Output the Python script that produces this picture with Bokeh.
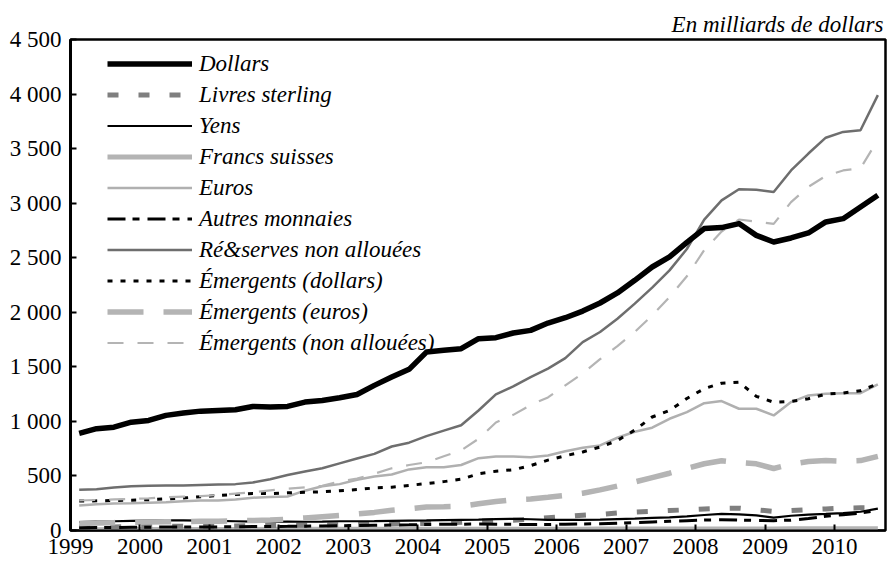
from bokeh.plotting import figure
from bokeh.models import ColumnDataSource, Legend, LegendItem, FixedTicker, Range1d
from bokeh.embed import file_html
from bokeh.resources import INLINE

# Quarterly observations, 1999 T1 -> 2010 T3 (in milliards de dollars)
quarters = [f"{y}T{q}" for y in range(1999, 2011) for q in range(1, 5)][:47]

dollars = [890, 933, 947, 993, 1009, 1055, 1076, 1094, 1100, 1107, 1137, 1131,
           1137, 1177, 1192, 1217, 1247, 1330, 1406, 1477, 1635, 1651, 1666, 1758,
           1767, 1810, 1834, 1901, 1950, 2011, 2085, 2177, 2293, 2415, 2507, 2640,
           2767, 2776, 2813, 2705, 2644, 2681, 2727, 2828, 2858, 2965, 3072]
livres = [30, 32, 33, 35, 36, 38, 38, 40, 40, 42, 44, 45,
          46, 48, 50, 52, 55, 58, 60, 62, 65, 70, 75, 85,
          92, 95, 105, 118, 128, 140, 148, 160, 168, 175, 183, 190,
          198, 203, 205, 190, 175, 182, 190, 198, 205, 208, 210]
yens = [78, 82, 85, 88, 90, 92, 92, 90, 88, 85, 82, 80,
        82, 80, 82, 85, 85, 86, 88, 90, 92, 95, 98, 100,
        105, 107, 103, 98, 98, 98, 100, 105, 108, 115, 120, 130,
        142, 153, 148, 138, 118, 135, 145, 152, 160, 172, 200]
francs = [8, 8, 9, 9, 9, 10, 10, 10, 10, 10, 10, 11,
          11, 11, 11, 11, 11, 12, 12, 12, 12, 12, 12, 12,
          12, 12, 12, 12, 12, 12, 13, 13, 13, 13, 13, 14,
          14, 14, 14, 14, 14, 15, 15, 15, 15, 15, 15]
euros = [229, 240, 248, 250, 255, 260, 268, 275, 275, 285, 300, 308,
         312, 365, 405, 425, 465, 495, 513, 560, 580, 580, 600, 663,
         679, 679, 672, 688, 727, 758, 780, 850, 905, 942, 1024, 1085,
         1167, 1186, 1116, 1116, 1055, 1177, 1238, 1254, 1259, 1259, 1339]
autres = [25, 27, 28, 30, 30, 32, 32, 33, 33, 35, 36, 37,
          38, 40, 42, 44, 46, 48, 50, 52, 55, 57, 58, 60,
          58, 56, 55, 55, 57, 60, 62, 66, 72, 78, 84, 90,
          96, 98, 95, 92, 90, 95, 110, 130, 145, 160, 185]
reserves_na = [373, 378, 395, 405, 410, 412, 412, 418, 422, 425, 440, 470,
               508, 540, 570, 615, 660, 702, 770, 805, 865, 915, 965, 1100,
               1247, 1320, 1406, 1483, 1580, 1727, 1819, 1941, 2079, 2226, 2384, 2580,
               2849, 3026, 3127, 3124, 3102, 3300, 3455, 3600, 3653, 3668, 3990]
emerg_dollars = [270, 272, 275, 278, 282, 290, 298, 310, 320, 330, 340, 338,
                 345, 350, 355, 365, 375, 390, 397, 413, 430, 448, 470, 520,
                 543, 557, 595, 645, 685, 720, 765, 825, 920, 1040, 1100, 1210,
                 1300, 1350, 1360, 1230, 1175, 1182, 1208, 1250, 1260, 1280, 1345]
emerg_euros = [65, 68, 72, 75, 78, 80, 82, 85, 85, 88, 92, 96,
               104, 115, 127, 138, 152, 166, 185, 200, 215, 218, 222, 245,
               265, 282, 289, 305, 322, 342, 372, 408, 445, 485, 525, 570,
               612, 640, 622, 611, 568, 608, 632, 641, 636, 641, 679]
emerg_na = [275, 280, 285, 290, 295, 305, 310, 315, 325, 338, 350, 368,
            382, 395, 410, 450, 475, 520, 570, 600, 625, 680, 735, 840,
            990, 1060, 1150, 1220, 1330, 1440, 1570, 1690, 1820, 1970, 2140, 2330,
            2570, 2740, 2850, 2830, 2810, 3010, 3150, 3250, 3300, 3320, 3580]

year_ticks = list(range(1999, 2011))
y_ticks = [0, 500, 1000, 1500, 2000, 2500, 3000, 3500, 4000, 4500]
y_tick_labels = ["0", "500", "1 000", "1 500", "2 000", "2 500", "3 000", "3 500", "4 000", "4 500"]
unit_text = "En milliards de dollars"

# mid-quarter position on a continuous time axis
t = [int(q[:4]) + (int(q[-1]) - 1) * 0.25 + 0.125 for q in quarters]

src = ColumnDataSource(dict(t=t, dollars=dollars, livres=livres, yens=yens, francs=francs,
                            euros=euros, autres=autres, reserves_na=reserves_na,
                            emerg_dollars=emerg_dollars, emerg_euros=emerg_euros,
                            emerg_na=emerg_na))

FONT = "Liberation Serif"
X_END = 2010.735

p = figure(width=887, height=562, output_backend="svg", toolbar_location=None,
           x_range=Range1d(1999, X_END), y_range=Range1d(0, 4500),
           min_border_left=70, min_border_right=2, min_border_top=39, min_border_bottom=32)
p.background_fill_color = "white"
p.border_fill_color = "white"
p.xgrid.visible = False
p.ygrid.visible = False
p.outline_line_color = "black"
p.outline_line_width = 2.5
p.outline_line_alpha = 1.0

p.title.text = unit_text
p.title.align = "right"
p.title.text_font = FONT
p.title.text_font_style = "italic"
p.title.text_font_size = "23px"
p.title.text_color = "black"
p.title.standoff = 5
p.title.offset = 2

series = [
    ("Dollars", "dollars", dict(line_color="black", line_width=5.5, line_join="round")),
    ("Livres sterling", "livres", dict(line_color="#7f7f7f", line_width=5, line_dash="11 20")),
    ("Yens", "yens", dict(line_color="black", line_width=2.2)),
    ("Francs suisses", "francs", dict(line_color="#b4b4b4", line_width=5)),
    ("Euros", "euros", dict(line_color="#b0b0b0", line_width=2.5)),
    ("Autres monnaies", "autres", dict(line_color="black", line_width=3, line_dash="18 7 7 8")),
    ("Ré&serves non allouées", "reserves_na", dict(line_color="#6e6e6e", line_width=2.5)),
    ("Émergents (dollars)", "emerg_dollars", dict(line_color="black", line_width=3, line_dash="5 8")),
    ("Émergents (euros)", "emerg_euros", dict(line_color="#b4b4b4", line_width=5.5, line_dash="36 20")),
    ("Émergents (non allouées)", "emerg_na", dict(line_color="#b4b4b4", line_width=2.2, line_dash="16 14")),
]

draw_order = ["francs", "livres", "autres", "yens", "emerg_euros", "euros", "emerg_dollars",
              "emerg_na", "reserves_na", "dollars"]
renderers = {}
for col in draw_order:
    label, _, style = next(s for s in series if s[1] == col)
    renderers[col] = p.line("t", col, source=src, **style)
items = [LegendItem(label=label, renderers=[renderers[col]]) for label, col, _ in series]

legend = Legend(items=items, location=(37, 172), orientation="vertical")
legend.glyph_width = 85
legend.glyph_height = 31
legend.label_height = 31
legend.spacing = 0
legend.padding = 0
legend.margin = 0
legend.label_standoff = 7
legend.label_text_font = FONT
legend.label_text_font_style = "italic"
legend.label_text_font_size = "23px"
legend.label_text_color = "black"
legend.background_fill_alpha = 0
legend.border_line_color = None
p.add_layout(legend)

p.xaxis.ticker = FixedTicker(ticks=year_ticks)
p.xaxis.major_label_overrides = {y: str(y) for y in year_ticks}
p.yaxis.ticker = FixedTicker(ticks=y_ticks)
p.yaxis.major_label_overrides = {v: s for v, s in zip(y_ticks, y_tick_labels)}
for ax in (p.xaxis, p.yaxis):
    ax.minor_tick_line_color = None
    ax.major_tick_in = 6
    ax.major_tick_out = 0
    ax.major_tick_line_color = "black"
    ax.major_tick_line_width = 2
    ax.axis_line_color = "black"
    ax.major_label_text_font = FONT
    ax.major_label_text_font_size = "23px"
    ax.major_label_text_color = "black"
p.yaxis.axis_line_width = 3
p.xaxis.axis_line_width = 2
p.yaxis.major_label_standoff = 9
p.xaxis.major_label_text_line_height = 1.0
p.xaxis.major_label_standoff = 8

open("out.html", "w").write(file_html(p, INLINE))
